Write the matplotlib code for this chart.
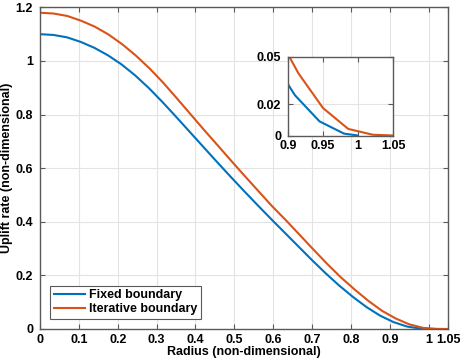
import numpy as np
import matplotlib
matplotlib.use('Agg')
import matplotlib.pyplot as plt

# Fixed boundary (blue)
r_fixed = [0.000, 0.035, 0.070, 0.105, 0.140, 0.175, 0.210, 0.245, 0.280, 0.315,
           0.350, 0.385, 0.420, 0.455, 0.490, 0.525, 0.560, 0.595, 0.630, 0.665,
           0.700, 0.735, 0.770, 0.805, 0.840, 0.875, 0.910, 0.945, 0.980, 1.000]
u_fixed = [1.100, 1.097, 1.088, 1.071, 1.049, 1.021, 0.987, 0.946, 0.899, 0.847,
           0.792, 0.736, 0.680, 0.624, 0.569, 0.515, 0.462, 0.410, 0.359, 0.308,
           0.257, 0.208, 0.162, 0.120, 0.082, 0.050, 0.0256, 0.0090, 0.0012, 0.0]

# Iterative boundary (red)
r_iter = [0.000, 0.035, 0.070, 0.106, 0.141, 0.176, 0.211, 0.246, 0.282, 0.317,
          0.352, 0.387, 0.422, 0.458, 0.493, 0.528, 0.563, 0.598, 0.634, 0.669,
          0.704, 0.739, 0.774, 0.810, 0.845, 0.880, 0.915, 0.950, 0.986, 1.021, 1.050]
u_iter = [1.180, 1.177, 1.168, 1.150, 1.128, 1.099, 1.063, 1.021, 0.972, 0.919,
          0.861, 0.802, 0.743, 0.684, 0.626, 0.569, 0.513, 0.457, 0.404, 0.350,
          0.296, 0.243, 0.193, 0.147, 0.105, 0.068, 0.0395, 0.0175, 0.0042, 0.0005, 0.0]

xticks = [0, 0.1, 0.2, 0.3, 0.4, 0.5, 0.6, 0.7, 0.8, 0.9, 1, 1.05]
xticklabels = ['0', '0.1', '0.2', '0.3', '0.4', '0.5', '0.6', '0.7', '0.8', '0.9', '1', '1.05']
yticks = [0, 0.2, 0.4, 0.6, 0.8, 1, 1.2]
yticklabels = ['0', '0.2', '0.4', '0.6', '0.8', '1', '1.2']
in_xticks = [0.9, 0.95, 1, 1.05]
in_xticklabels = ['0.9', '0.95', '1', '1.05']
in_yticks = [0, 0.02, 0.05]
in_yticklabels = ['0', '0.02', '0.05']

blue = '#0072BD'
red = '#D95319'
plt.rcParams['font.family'] = ['Liberation Sans', 'DejaVu Sans']
plt.rcParams['font.weight'] = 'bold'
fs = 9


def style(ax):
    for s in ax.spines.values():
        s.set_color('#5a5a5a')
        s.set_linewidth(1.0)
    ax.tick_params(direction='in', length=3.5, width=0.8, color='#5a5a5a',
                   top=True, right=True, labelsize=fs)
    ax.tick_params(axis='x', pad=3.5)
    ax.tick_params(axis='y', pad=5)
    ax.grid(True, color='#e3e3e3', linewidth=0.8)
    ax.set_axisbelow(True)


fig = plt.figure(figsize=(4.62, 3.63), dpi=100)
ax = fig.add_axes([0.0866, 0.0937, 0.8831, 0.886])
ax.plot(r_fixed, u_fixed, color=blue, lw=1.5, label='Fixed boundary')
ax.plot(r_iter, u_iter, color=red, lw=1.5, label='Iterative boundary')
ax.set_xlim(0, 1.05)
ax.set_ylim(0, 1.2)
ax.set_xticks(xticks)
ax.set_xticklabels(xticklabels)
ax.set_yticks(yticks)
ax.set_yticklabels(yticklabels)
style(ax)
ax.set_xlabel('Radius (non-dimensional)', fontsize=fs, fontweight='bold', labelpad=0)
ax.set_ylabel('Uplift rate (non-dimensional)', fontsize=fs, fontweight='bold', labelpad=2)
leg = ax.legend(loc='lower left', bbox_to_anchor=(0.025, 0.031), borderaxespad=0,
                fancybox=False, edgecolor='#5a5a5a', framealpha=1, handlelength=2.5,
                borderpad=0.3, labelspacing=0.15, handletextpad=0.3, fontsize=fs)
leg.get_frame().set_linewidth(0.8)

ins = fig.add_axes([0.6234, 0.6267, 0.2273, 0.2163])
ins.plot(r_fixed, u_fixed, color=blue, lw=1.5)
ins.plot(r_iter, u_iter, color=red, lw=1.5)
ins.set_xlim(0.9, 1.05)
ins.set_ylim(0, 0.05)
ins.set_xticks(in_xticks)
ins.set_xticklabels(in_xticklabels)
ins.set_yticks(in_yticks)
ins.set_yticklabels(in_yticklabels)
style(ins)

fig.savefig('out.png', dpi=100)
